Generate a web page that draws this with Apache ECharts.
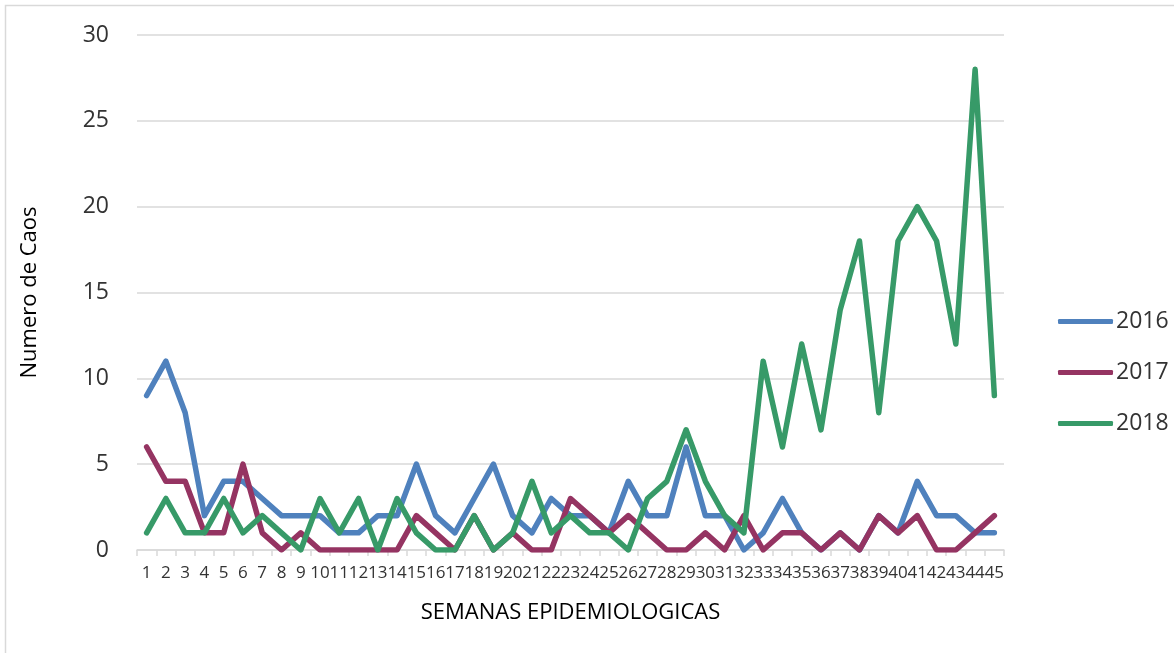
<!DOCTYPE html>
<html>
<head>
<meta charset="utf-8">
<script src="https://cdn.jsdelivr.net/npm/echarts@6/dist/echarts.min.js"></script>
<style>
  html, body { margin: 0; padding: 0; background: #fff; }
  #chart { width: 1174px; height: 653px; }
</style>
</head>
<body>
<div id="chart"></div>
<script>
// Epidemiological weeks 1..45
const semanas = Array.from({ length: 45 }, (_, i) => String(i + 1));

// Weekly case counts per year
const casos2016 = [9, 11, 8, 2, 4, 4, 3, 2, 2, 2, 1, 1, 2, 2, 5, 2, 1, 3, 5, 2, 1, 3, 2, 2, 1, 4, 2, 2, 6, 2, 2, 0, 1, 3, 1, 0, 1, 0, 2, 1, 4, 2, 2, 1, 1];
const casos2017 = [6, 4, 4, 1, 1, 5, 1, 0, 1, 0, 0, 0, 0, 0, 2, 1, 0, 2, 0, 1, 0, 0, 3, 2, 1, 2, 1, 0, 0, 1, 0, 2, 0, 1, 1, 0, 1, 0, 2, 1, 2, 0, 0, 1, 2];
const casos2018 = [1, 3, 1, 1, 3, 1, 2, 1, 0, 3, 1, 3, 0, 3, 1, 0, 0, 2, 0, 1, 4, 1, 2, 1, 1, 0, 3, 4, 7, 4, 2, 1, 11, 6, 12, 7, 14, 18, 8, 18, 20, 18, 12, 28, 9];

const anos = ['2016', '2017', '2018'];
const colores = ['#4F81BD', '#953462', '#379A68'];
const valoresY = [0, 5, 10, 15, 20, 25, 30];

const font = '"Open Sans", "Noto Sans", sans-serif';
const chart = echarts.init(document.getElementById('chart'));

function serie(name, data, color) {
  return {
    name, type: 'line', data,
    showSymbol: false, symbol: 'none',
    lineStyle: { width: 5.5, color, cap: 'round', join: 'round' },
    itemStyle: { color },
    emphasis: { disabled: true },
    animation: false
  };
}

chart.setOption({
  animation: false,
  textStyle: { fontFamily: font },
  graphic: [{
    type: 'rect',
    shape: { x: 5.5, y: 5.5, width: 1200, height: 700 },
    style: { fill: 'none', stroke: '#D9D9D9', lineWidth: 1.5 },
    silent: true
  }],
  grid: { left: 137, right: 170, top: 35, bottom: 103, containLabel: false },
  legend: {
    orient: 'vertical',
    left: 1053, top: 305,
    itemWidth: 55, itemHeight: 5, itemGap: 28,
    icon: 'roundRect',
    textStyle: { fontFamily: font, fontSize: 23, color: '#333', padding: [0, 0, 0, -2] },
    data: anos
  },
  xAxis: {
    type: 'category',
    data: semanas,
    boundaryGap: true,
    name: 'SEMANAS EPIDEMIOLOGICAS',
    nameLocation: 'middle',
    nameGap: 52,
    nameTextStyle: { fontFamily: font, fontSize: 22, color: '#000' },
    axisLine: { lineStyle: { color: '#D9D9D9', width: 1.5 } },
    axisTick: { show: true, alignWithLabel: false, length: 6, lineStyle: { color: '#D9D9D9', width: 1.5 } },
    axisLabel: { interval: 0, hideOverlap: false, fontFamily: font, fontSize: 17, color: '#333', margin: 15 }
  },
  yAxis: {
    type: 'value',
    min: 0, max: 30, interval: 5,
    name: 'Numero de Caos',
    nameLocation: 'middle',
    nameGap: 96,
    nameRotate: 90,
    nameTextStyle: { fontFamily: font, fontSize: 22, color: '#000' },
    axisLine: { show: false },
    axisTick: { show: false },
    axisLabel: {
      fontFamily: font, fontSize: 23, color: '#333', margin: 28,
      formatter: v => (valoresY.includes(v) ? String(v) : '')
    },
    splitLine: { lineStyle: { color: '#D9D9D9', width: 1.5 } }
  },
  series: [
    serie(anos[0], casos2016, colores[0]),
    serie(anos[1], casos2017, colores[1]),
    serie(anos[2], casos2018, colores[2])
  ]
});
</script>
</body>
</html>
